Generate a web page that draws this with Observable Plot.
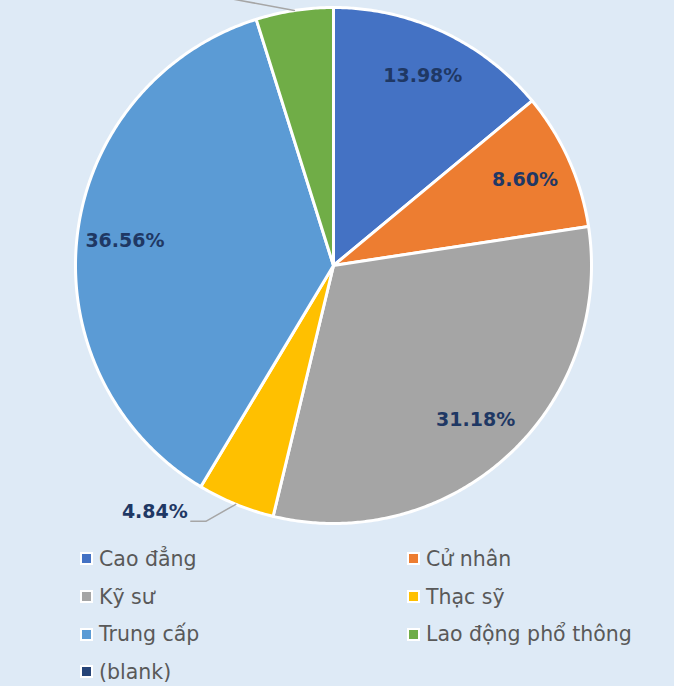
<!DOCTYPE html>
<html>
<head>
<meta charset="utf-8">
<script src="https://cdn.jsdelivr.net/npm/d3@7"></script>
<script src="https://cdn.jsdelivr.net/npm/@observablehq/plot@0.6"></script>
<style>
  html, body { margin: 0; padding: 0; background: #deeaf6; width: 674px; height: 686px; overflow: hidden; }
  #chart { position: absolute; left: 0; top: 0; }
  #legend { position: absolute; left: 80px; top: 540px; display: grid;
    grid-template-columns: 327px auto; grid-auto-rows: 37.7px;
    font-family: "DejaVu Sans", sans-serif; font-size: 20.5px; color: #595959; }
  .item { display: flex; align-items: center; gap: 6px; white-space: nowrap; }
  .sw { width: 9px; height: 9px; border: 2px solid #ffffff; flex: none; }
</style>
</head>
<body>
<div id="chart"></div>
<div id="legend"></div>
<script>
const categories = ["Cao đẳng", "Cử nhân", "Kỹ sư", "Thạc sỹ", "Trung cấp", "Lao động phổ thông", "(blank)"];
const values = [13.98, 8.60, 31.18, 4.84, 36.56, 4.84, 0];
// the label of "Lao động phổ thông" lies above the visible area in the reference
const labels = ["13.98%", "8.60%", "31.18%", "4.84%", "36.56%", "", ""];
const outsideLabel = [false, false, false, true, false, true, false];
const colors = ["#4472c4", "#ed7d31", "#a5a5a5", "#ffc000", "#5b9bd5", "#70ad47", "#264478"];

const W = 674, H = 530, CX = 333, CY = 265, R = 258, LR = 210;

const data = categories.map((c, i) => ({cat: c, value: values[i], label: labels[i], outside: outsideLabel[i]}));
const arcs = d3.pie().sort(null).value(d => d.value).startAngle(0).endAngle(2 * Math.PI)(data);
const polar = (a, r) => ({x: r * Math.sin(a), y: -r * Math.cos(a)});

// slice outlines (geometry derived from the pie angles)
const poly = [];
for (const a of arcs) {
  if (a.data.value <= 0) continue;
  poly.push({cat: a.data.cat, x: 0, y: 0});
  const n = Math.max(2, Math.ceil((a.endAngle - a.startAngle) / (Math.PI / 360)));
  for (let k = 0; k <= n; k++) {
    const t = a.startAngle + (a.endAngle - a.startAngle) * k / n;
    poly.push({cat: a.data.cat, ...polar(t, R)});
  }
}

const inside = [], outside = [], leaders = [];
for (const a of arcs) {
  if (a.data.value <= 0) continue;
  const mid = (a.startAngle + a.endAngle) / 2;
  if (!a.data.outside) {
    inside.push({...polar(mid, LR), text: a.data.label});
  } else {
    const p0 = polar(mid, R);
    const right = Math.sin(mid) >= 0;
    const down = -Math.cos(mid) >= 0;
    const elbow = down
      ? {x: p0.x + (right ? 30 : -30), y: p0.y + 17}
      : {x: p0.x + (right ? 65 : -65), y: p0.y - 12};
    const end = {x: elbow.x + (right ? 15 : -15), y: elbow.y};
    leaders.push({id: a.data.cat, ...p0}, {id: a.data.cat, ...elbow}, {id: a.data.cat, ...end});
    if (a.data.label) outside.push({x: end.x - 3, y: end.y - 9, text: a.data.label});
  }
}

const font = "DejaVu Sans, sans-serif";
const chart = Plot.plot({
  width: W, height: H,
  margin: 0,
  style: {background: "transparent", overflow: "hidden"},
  x: {domain: [-CX, W - CX], range: [0, W], axis: null},
  y: {domain: [-CY, H - CY], range: [0, H], axis: null},
  color: {domain: categories, range: colors},
  marks: [
    Plot.line(poly, {x: "x", y: "y", z: "cat", fill: "cat", stroke: "#ffffff", strokeWidth: 3, strokeLinejoin: "round", curve: "linear-closed"}),
    Plot.line(leaders, {x: "x", y: "y", z: "id", stroke: "#a6a6a6", strokeWidth: 1.5}),
    Plot.text(inside, {x: "x", y: "y", text: "text", fill: "#1f3864", fontSize: 19, fontWeight: "bold", fontFamily: font}),
    Plot.text(outside, {x: "x", y: "y", text: "text", fill: "#1f3864", fontSize: 19, fontWeight: "bold", fontFamily: font, textAnchor: "end"})
  ]
});
document.getElementById("chart").appendChild(chart);

const legend = document.getElementById("legend");
categories.forEach((c, i) => {
  const item = document.createElement("div");
  item.className = "item";
  const sw = document.createElement("span");
  sw.className = "sw";
  sw.style.background = colors[i];
  const t = document.createElement("span");
  t.textContent = c;
  item.append(sw, t);
  legend.appendChild(item);
});
</script>
</body>
</html>
